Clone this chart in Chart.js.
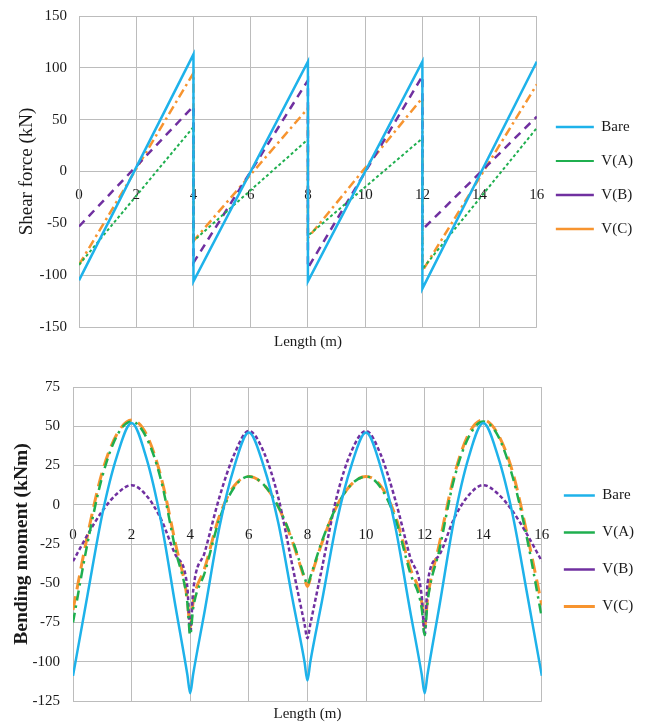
<!DOCTYPE html>
<html>
<head>
<meta charset="utf-8">
<script src="https://cdn.jsdelivr.net/npm/chart.js@4.4.1/dist/chart.umd.min.js"></script>
<style>
  html, body { margin: 0; padding: 0; background: #fff; }
  #wrap { position: relative; width: 645px; height: 724px; overflow: hidden; }
  .panel { position: absolute; left: 0; width: 645px; }
  #shearPanel { top: -5px; height: 366px; }
  #momentPanel { top: 365px; height: 372px; }
</style>
</head>
<body>
<div id="wrap">
  <div class="panel" id="shearPanel"><canvas id="shearChart"></canvas></div>
  <div class="panel" id="momentPanel"><canvas id="momentChart"></canvas></div>
</div>
<script>
// shear force: straight lines, jump at each support
const lengthShear = [0, 4, 4, 8, 8, 12, 12, 16];
const shearBare = [-105, 113, -106, 106, -106, 106, -113, 106];
const shearA = [-90, 43, -67, 31, -62, 32, -94, 42];
const shearB = [-53, 63, -88, 88, -93, 92, -56, 53];
const shearC = [-90, 95, -67, 61, -64, 71, -96, 84];

// bending moment, read every 0.5 m (plus either side of supports)
const lengthMoment = [
  0, 0.5, 1, 1.5, 2, 2.5, 3, 3.5, 3.9,
  4, 4.1, 4.5, 5, 5.5, 6, 6.5, 7, 7.5, 7.9,
  8, 8.1, 8.5, 9, 9.5, 10, 10.5, 11, 11.5, 11.9,
  12, 12.1, 12.5, 13, 13.5, 14, 14.5, 15, 15.5, 16
];
const momentBare = [
  -109, -57, -6, 31, 52, 30, -10, -65, -108,
  -120, -108, -67, -14, 24, 46, 25, -11, -61, -100,
  -112, -100, -61, -11, 25, 46, 24, -14, -67, -108,
  -120, -108, -65, -10, 30, 52, 31, -6, -57, -109
];
const momentA = [
  -75, -24, 18, 44, 53, 43, 16, -29, -62,
  -83, -66, -43, -9, 11, 18, 13, -1, -23, -46,
  -51, -46, -23, -1, 13, 18, 11, -9, -43, -66,
  -83, -62, -29, 16, 43, 53, 44, 18, -22, -72
];
const momentB = [
  -36, -19, -4, 7, 12.5, 6, -9, -32, -52,
  -82, -55, -30, 5, 32, 47, 34, 5, -40, -76,
  -85, -76, -40, 5, 34, 47, 32, 3, -33, -58,
  -83, -50, -32, -9, 6, 12.5, 7, -4, -19, -36
];
const momentC = [
  -67, -19, 21, 45, 54, 45, 18, -25, -60,
  -78, -62, -40, -7, 12, 18, 13, -1, -24, -47,
  -52, -47, -24, -1, 13, 18, 12, -7, -40, -62,
  -78, -60, -25, 18, 45, 54, 45, 21, -19, -64
];

const seriesNames = ["Bare", "V(A)", "V(B)", "V(C)"];
const lengthTicks = [0, 2, 4, 6, 8, 10, 12, 14, 16];
const shearTicks = [-150, -100, -50, 0, 50, 100, 150];
const momentTicks = [-125, -100, -75, -50, -25, 0, 25, 50, 75];

const serif = "'Liberation Serif', 'Times New Roman', serif";
const ink = "#1a1a1a";
const gridColor = "#bcbcbc";
const cyan = "#1EB2EA";
const green = "#1FAF4F";
const purple = "#7030A0";
const orange = "#F7942F";

Chart.defaults.font.family = serif;
Chart.defaults.color = ink;

const series = (label, xs, ys, color, dash, width, smooth) => ({
  label,
  data: xs.map((x, i) => ({ x, y: ys[i] })),
  xAxisID: "x",
  yAxisID: "y",
  borderColor: color,
  backgroundColor: color,
  borderWidth: width,
  borderDash: dash,
  pointRadius: 0,
  pointHoverRadius: 0,
  fill: false,
  tension: 0,
  cubicInterpolationMode: smooth ? "monotone" : "default"
});

function makeChart(id, datasets, yTicks, o) {
  return new Chart(document.getElementById(id), {
    type: "line",
    data: { datasets },
    options: {
      responsive: true,
      maintainAspectRatio: false,
      animation: false,
      layout: { padding: { top: 0, left: 0, right: o.padRight, bottom: 0 } },
      plugins: {
        tooltip: { enabled: false },
        legend: {
          position: "right",
          align: "center",
          labels: {
            usePointStyle: true,
            pointStyle: "line",
            pointStyleWidth: o.legendLine,
            padding: o.legendPad,
            color: ink,
            font: { size: 15 }
          }
        }
      },
      scales: {
        x: {
          type: "linear",
          position: { y: 0 },
          min: lengthTicks[0],
          max: lengthTicks[lengthTicks.length - 1],
          grid: { color: gridColor, drawTicks: false },
          border: { display: false },
          ticks: { stepSize: 2, padding: o.xTickPad, autoSkip: false, maxRotation: 0, color: ink, font: { size: 15 } }
        },
        xTitle: {
          type: "linear",
          axis: "x",
          position: "bottom",
          min: lengthTicks[0],
          max: lengthTicks[lengthTicks.length - 1],
          grid: { display: false, drawTicks: false },
          border: { display: false },
          ticks: { display: false },
          title: {
            display: true, text: "Length (m)", color: ink,
            font: { size: 15 },
            padding: { top: o.xTitleTop, bottom: o.xTitleBottom }
          }
        },
        y: {
          type: "linear",
          min: yTicks[0],
          max: yTicks[yTicks.length - 1],
          grid: { color: gridColor, drawTicks: false },
          border: { color: gridColor },
          ticks: { stepSize: yTicks[1] - yTicks[0], padding: o.yTickPad, color: ink, font: { size: 15 } },
          title: {
            display: true, text: o.yTitle, color: ink,
            font: o.yTitleFont,
            padding: { top: o.yTitlePad, bottom: 0 }
          },
          afterFit: (scale) => { scale.width = o.yWidth; }
        }
      }
    }
  });
}

makeChart("shearChart", [
  series(seriesNames[0], lengthShear, shearBare, cyan, [], 2.5, false),
  series(seriesNames[1], lengthShear, shearA, green, [3, 2.5], 2, false),
  series(seriesNames[2], lengthShear, shearB, purple, [8, 6], 2.5, false),
  series(seriesNames[3], lengthShear, shearC, orange, [9, 4, 2.5, 4], 2.5, false)
], shearTicks, {
  padRight: 2, legendLine: 38, legendPad: 19,
  xTickPad: 15, xTitleTop: 6, xTitleBottom: 10,
  yTickPad: 12, yWidth: 79, yTitle: "Shear force (kN)",
  yTitleFont: { size: 19 }, yTitlePad: 16
});

makeChart("momentChart", [
  series(seriesNames[0], lengthMoment, momentBare, cyan, [], 2.5, true),
  series(seriesNames[1], lengthMoment, momentA, green, [10, 5, 2.5, 5], 2.5, true),
  series(seriesNames[2], lengthMoment, momentB, purple, [4, 2.5], 2.5, true),
  series(seriesNames[3], lengthMoment, momentC, orange, [14, 7], 3, true)
], momentTicks, {
  padRight: 1, legendLine: 31, legendPad: 22,
  xTickPad: 21, xTitleTop: 4, xTitleBottom: 14,
  yTickPad: 13, yWidth: 73, yTitle: "Bending moment (kNm)",
  yTitleFont: { size: 19.5, weight: "bold" }, yTitlePad: 10
});
</script>
</body>
</html>
